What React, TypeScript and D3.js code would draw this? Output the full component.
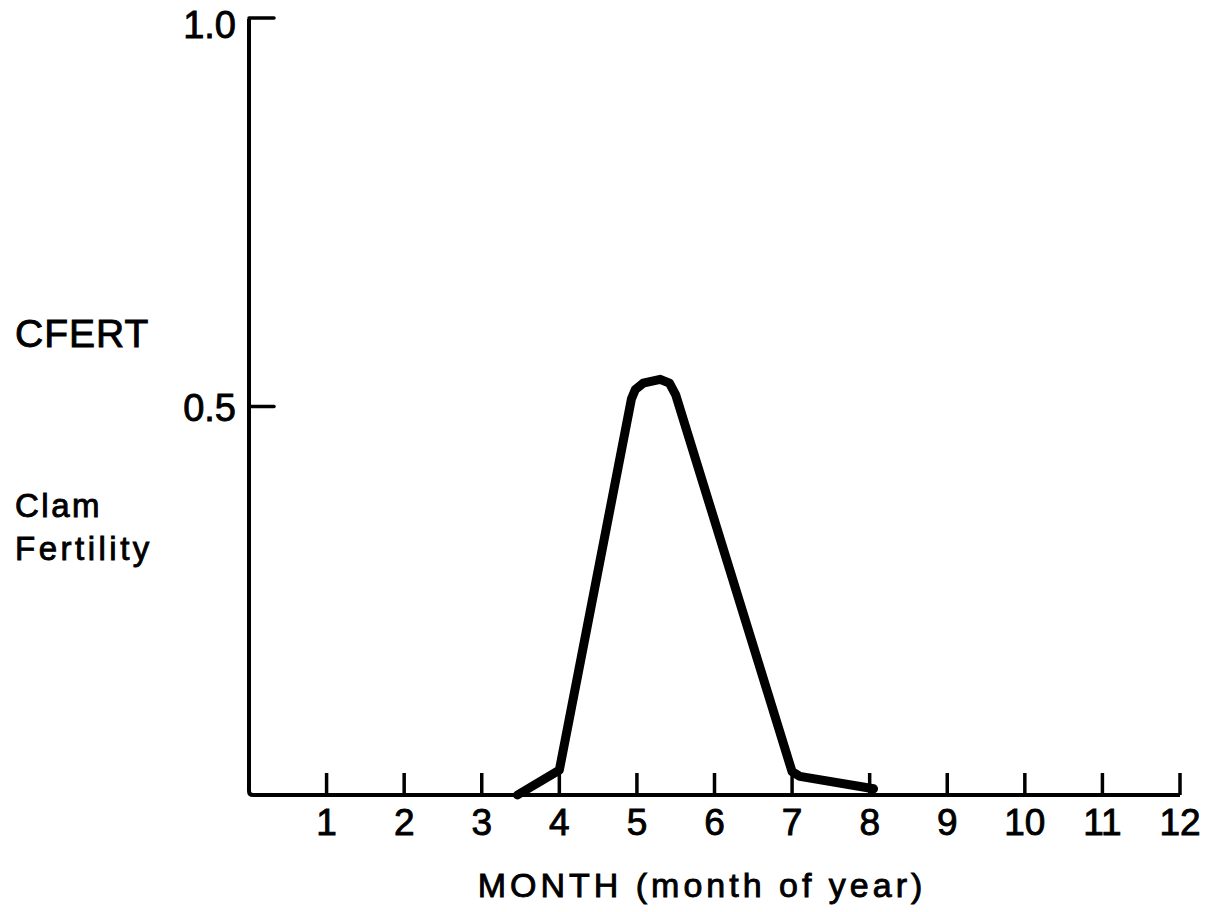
import React from "react";
import * as d3 from "d3";

const monthTicks = [1, 2, 3, 4, 5, 6, 7, 8, 9, 10, 11, 12];
const yTicks = [0.5, 1.0];
const yTickLabels = ["0.5", "1.0"];
const curveMonths = [3.46, 4.0, 4.93, 4.98, 5.08, 5.3, 5.42, 5.5, 7.0, 7.1, 8.05];
const curveValues = [0.0, 0.032, 0.51, 0.522, 0.53, 0.535, 0.53, 0.515, 0.03, 0.024, 0.008];

const W = 1205;
const H = 912;
const FONT = "'Liberation Sans', Arial, sans-serif";

export default function App() {
  const x = d3.scaleLinear().domain([0, 12]).range([249, 1180]);
  const y = d3.scaleLinear().domain([0, 1]).range([795, 18]);

  const pts: [number, number][] = curveMonths.map((m, i) => [m, curveValues[i]]);
  const line = d3
    .line<[number, number]>()
    .x((d) => x(d[0]))
    .y((d) => y(d[1]))
    .curve(d3.curveLinear);

  const textProps = { fill: "#000", stroke: "#000", strokeWidth: 0.9 };

  return (
    <svg
      width={W}
      height={H}
      style={{ position: "absolute", left: 0, top: 0, background: "#fff" }}
      fontFamily={FONT}
    >
      {/* axes */}
      <path
        d={`M${x(0)},${y(1) + 1} L${x(0)},${y(0) - 4} Q${x(0)},${y(0)} ${x(0) + 4},${y(0)} L${x(12)},${y(0)}`}
        fill="none"
        stroke="#000"
        strokeWidth={4}
      />
      {/* y ticks */}
      {yTicks.map((v) => (
        <line
          key={"yt" + v}
          x1={x(0)}
          x2={x(0) + 25}
          y1={y(v)}
          y2={y(v)}
          stroke="#000"
          strokeWidth={3.5}
          strokeLinecap="round"
        />
      ))}
      {yTicks.map((v, i) => (
        <text
          key={"yl" + v}
          x={x(0) - 13}
          y={Math.max(y(v) + 14, 38)}
          textAnchor="end"
          fontSize={38}
          {...textProps}
        >
          {yTickLabels[i]}
        </text>
      ))}
      {/* x ticks */}
      {monthTicks.map((m) => (
        <line
          key={"xt" + m}
          x1={x(m)}
          x2={x(m)}
          y1={y(0)}
          y2={y(0) - 22}
          stroke="#000"
          strokeWidth={3.5}
        />
      ))}
      {monthTicks.map((m) => (
        <text
          key={"xl" + m}
          x={x(m)}
          y={835}
          textAnchor="middle"
          fontSize={37}
          {...textProps}
        >
          {String(m)}
        </text>
      ))}
      {/* labels */}
      <text x={15} y={347} fontSize={39} letterSpacing={1} {...textProps}>
        CFERT
      </text>
      <text x={15} y={517} fontSize={33} letterSpacing={2.5} {...textProps}>
        Clam
      </text>
      <text x={15} y={560} fontSize={33} letterSpacing={3.5} {...textProps}>
        Fertility
      </text>
      <text
        x={702}
        y={897}
        textAnchor="middle"
        fontSize={34}
        letterSpacing={4}
        {...textProps}
      >
        MONTH (month of year)
      </text>
      {/* curve */}
      <path
        d={line(pts) || ""}
        fill="none"
        stroke="#000"
        strokeWidth={9}
        strokeLinejoin="round"
        strokeLinecap="round"
      />
    </svg>
  );
}
